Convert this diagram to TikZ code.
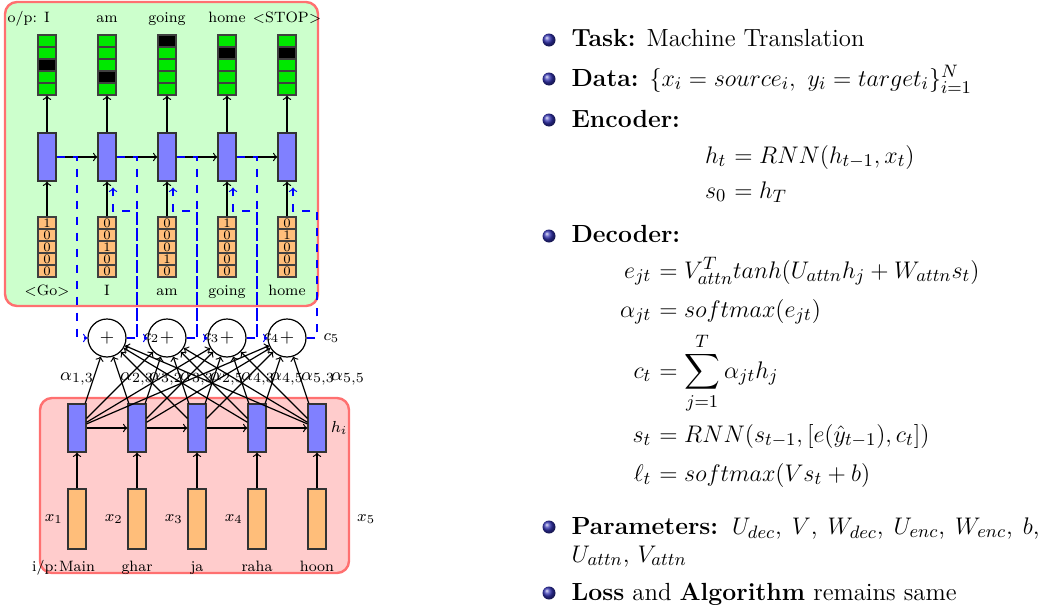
\documentclass[tikz,border=0pt]{standalone}
\usepackage{amsmath, amssymb}
\usepackage{tikz}
\usepackage{color}
\usetikzlibrary{positioning}

\definecolor{decgreen}{RGB}{204,255,204}
\definecolor{encpink}{RGB}{255,204,204}
\definecolor{framered}{RGB}{255,112,112}
\definecolor{outgreen}{RGB}{0,232,0}
\definecolor{stateblue}{RGB}{128,128,255}
\definecolor{inorange}{RGB}{255,190,122}
\definecolor{structfg}{rgb}{0.2,0.2,0.7}

\newcommand{\slidesize}{\fontsize{12.4}{14.8}\selectfont}

\tikzset{
  panel/.style={draw=framered, line width=1.2pt, rounded corners=6pt},
  cell/.style={draw=black!75, minimum width=9pt, minimum height=6pt, inner sep=0pt, font=\fontsize{6.5}{6.5}\selectfont},
  state/.style={draw=black!80, fill=stateblue, minimum width=9pt, minimum height=24pt, inner sep=0pt},
  embed/.style={draw=black!80, fill=inorange, minimum width=9pt, minimum height=30pt, inner sep=0pt},
  attn/.style={draw, circle, minimum size=19pt, inner sep=0pt, font=\fontsize{9}{9}\selectfont},
  word/.style={inner sep=1pt, font=\fontsize{7.5}{9}\selectfont, text height=1.6ex, text depth=0.4ex},
  lbl/.style={inner sep=1pt, text=black, font=\fontsize{8}{9}\selectfont},
  weight/.style={inner sep=0pt, font=\fontsize{9.5}{11}\selectfont},
  ctx/.style={blue, dash pattern=on 4pt off 4pt},
  slide/.style={inner sep=0pt, font=\slidesize},
  ball/.style={circle, ball color=structfg, minimum size=6.5pt, inner sep=0pt},
}

\begin{document}
\begin{tikzpicture}[x=0.5pt, y=-0.5pt, line width=0.6pt]
\useasboundingbox (0,0) rectangle (1046,611);
% decoder and encoder panels
\draw[panel, fill=decgreen] (5,2) rectangle (318,306);
\draw[panel, fill=encpink] (40,398) rectangle (349,573);

% decoder outputs and states
\foreach \i/\hot/\word in {1/3/I, 2/4/am, 3/1/going, 4/2/home, 5/2/{$<$STOP$>$}} {
  \foreach \k in {1,...,5} {
    \ifnum\k=\hot \def\cellcol{black}\else\def\cellcol{outgreen}\fi
    \node[cell, fill=\cellcol] (o\i-\k) at ({47+60*(\i-1)}, {41+12*(\k-1)}) {};
  }
  \node[word, above=3pt of o\i-1] (ow\i) {\word};
  \node[state] (s\i) at ({47+60*(\i-1)}, 157) {};
  \draw[->] (s\i) -- (o\i-5);
}
\node[word, left=1pt of ow1] (opword) {o/p:};

% previous outputs (one-hot)
\foreach \i/\va/\vb/\vc/\vd/\ve/\word in {1/1/0/0/0/0/{$<$Go$>$}, 2/0/0/1/0/0/I, 3/0/0/0/1/0/am, 4/1/0/0/0/0/going, 5/0/1/0/0/0/home} {
  \foreach \k/\v in {1/\va, 2/\vb, 3/\vc, 4/\vd, 5/\ve}
    \node[cell, fill=inorange] (p\i-\k) at ({47+60*(\i-1)}, {223+12*(\k-1)}) {\v};
  \node[word, below=1pt of p\i-5] (pw\i) {\word};
  \draw[->] (p\i-1) -- (s\i);
}
\foreach \i [count=\j from 2] in {1,...,4}
  \draw[->] (s\i) -- (s\j);

% encoder
\foreach \j/\word in {1/Main, 2/ghar, 3/ja, 4/raha, 5/hoon} {
  \node[state] (h\j) at ({77+60*(\j-1)}, 428) {};
  \node[embed] (x\j) at ({77+60*(\j-1)}, 519) {};
  \node[word, below=3pt of x\j] (xw\j) {\word};
  \draw[->] (x\j) -- (h\j);
}
\foreach \j [count=\k from 2] in {1,...,4}
  \draw[->] (h\j) -- (h\k);
\node[word, left=-2pt of xw1] (ipword) {i/p:};
\foreach \j in {1,...,4}
  \node[lbl, left=1pt of x\j] (xl\j) {$x_{\j}$};
\node[lbl, right=14pt of x5] (xl5) {$x_5$};
\node[lbl, right=1pt of h5] (hl) {$h_i$};

% attention
\foreach \t in {1,...,4}
  \node[attn] (a\t) at ({107+60*(\t-1)}, 338) {$+$};
\foreach \j in {1,...,5}
  \foreach \t in {1,...,4}
    \draw[->] (h\j) -- (a\t);
\foreach \px/\ij in {77/{1,3}, 137/{2,3}, 166/{3,2}, 197/{3,3}, 227/{2,5}, 258/{4,3}, 287/{4,5}, 318/{5,3}, 348/{5,5}}
  \node[weight] (w\px) at (\px, 379) {$\alpha_{\ij}$};

% context vectors
\coordinate (bus) at (0, 211);
\foreach \i [count=\j from 2] in {1,...,4} {
  \draw[ctx, ->] (s\i.east) -| (h\i |- a\i.west) -- (a\i.west);
  \draw[ctx, ->, shorten >=3pt] (a\i.east) -- (h\j |- a\i.east) node[lbl, right=2pt] (c\j) {$c_{\j}$} -- (h\j |- bus) -| ([xshift=3pt]s\j.south);
}

% text
\node[ball] (b1) at (549,40) {};
\node[slide, anchor=base west] (task) at (571,46) {\textbf{Task:} Machine Translation};
\node[ball] (b2) at (549,79) {};
\node[slide, anchor=base west] (data) at (571,86) {\textbf{Data:} $\{x_i = source_i,\ y_i = target_i\}_{i=1}^{N}$};
\node[ball] (b3) at (549,120) {};
\node[slide, anchor=base west] (enc) at (571,127) {\textbf{Encoder:}};
\foreach \y/\lhs/\rhs in {163/h_t/{RNN(h_{t-1}, x_t)}, 198/s_0/h_T} {
  \node[slide, anchor=base east] (el\y) at (727,\y) {$\lhs$};
  \node[slide, anchor=base west] (er\y) at (727,\y) {${}= \rhs$};
}
\node[ball] (b4) at (549,236) {};
\node[slide, anchor=base west] (dec) at (571,242) {\textbf{Decoder:}};
\foreach \y/\lhs/\rhs in {278/e_{jt}/{V_{attn}^{T} tanh(U_{attn}h_j + W_{attn}s_t)}, 317/\alpha_{jt}/{softmax(e_{jt})}, 378/c_t/{\displaystyle\sum_{j=1}^{T}\alpha_{jt}h_j}, 442/s_t/{RNN(s_{t-1},[e(\hat{y}_{t-1}),c_t])}, 481/\ell_t/{softmax(Vs_t + b)}} {
  \node[slide, anchor=base east] (dl\y) at (652,\y) {$\lhs$};
  \node[slide, anchor=base west] (dr\y) at (652,\y) {${}= \rhs$};
}
\node[ball] (b5) at (549,527) {};
\node[slide, anchor=base west] (par) at (571,534) {\makebox[234pt][s]{\textbf{Parameters:} $U_{dec}$, $V$, $W_{dec}$, $U_{enc}$, $W_{enc}$, $b$,}};
\node[slide, anchor=base west] (par2) at (571,562) {$U_{attn}$, $V_{attn}$};
\node[ball] (b6) at (549,593) {};
\node[slide, anchor=base west] (loss) at (571,600) {\textbf{Loss} and \textbf{Algorithm} remains same};
\end{tikzpicture}
\end{document}
